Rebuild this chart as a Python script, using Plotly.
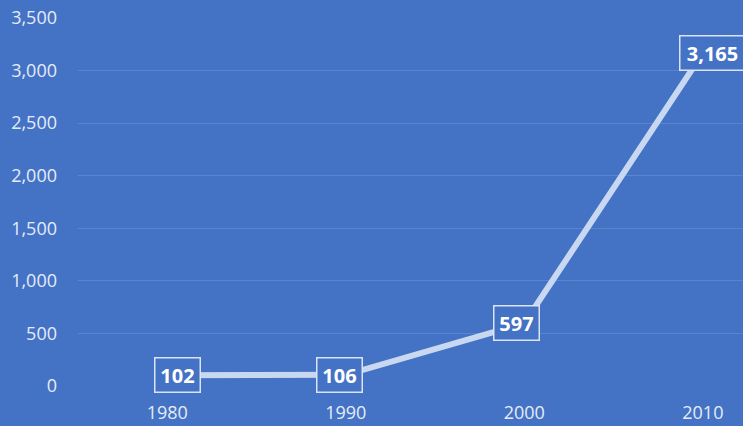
import plotly.graph_objects as go

years = [1980, 1990, 2000, 2010]
values = [102, 106, 597, 3165]
label_text = ["102", "106", "597", "3,165"]
label_xshift = [10, -6, -8, 10]
label_width = [38, 38, 38, 58]

BG = "#4472C4"
GRID = "#5A84CE"
LINE = "#C8D8F0"
TXT = "#E4ECF8"

fig = go.Figure()
fig.add_trace(go.Scatter(x=years, y=values, mode="lines",
                         line=dict(color=LINE, width=6), hoverinfo="skip"))

for x, y, t, dx, w in zip(years, values, label_text, label_xshift, label_width):
    fig.add_annotation(x=x, y=y, text="<b>%s</b>" % t, showarrow=False,
                       xshift=dx, width=w, height=27, bgcolor=BG, bordercolor="#D9E4F5",
                       borderwidth=1.5, borderpad=3,
                       font=dict(family="Open Sans", size=20, color="white"))

fig.update_layout(
    width=743, height=426,
    margin=dict(l=78, r=0, t=18, b=40),
    paper_bgcolor=BG, plot_bgcolor=BG,
    showlegend=False,
    font=dict(family="Open Sans", size=18, color=TXT),
)
fig.update_xaxes(range=[1975, 2012.25], tickvals=years, ticktext=[str(y) for y in years],
                 showgrid=False, zeroline=False, showline=False,
                 ticklabelstandoff=14, tickfont=dict(size=18, color=TXT))
fig.update_yaxes(range=[0, 3500], dtick=500, tickformat=",d",
                 showgrid=True, gridcolor=GRID, gridwidth=1, zeroline=False,
                 showline=False, ticklabelstandoff=20, tickfont=dict(size=18, color=TXT))

fig.write_html("out.html", config={"displayModeBar": False},
               post_script="document.body.style.margin='0';document.body.style.overflow='hidden';")
